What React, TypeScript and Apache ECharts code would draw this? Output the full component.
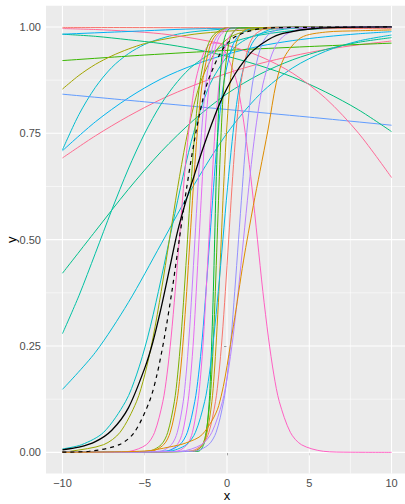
import { useEffect, useRef } from "react";
import * as echarts from "echarts";

// axis ticks and grid
const xTicks = [-10, -5, 0, 5, 10];
const xMinor = [-7.5, -2.5, 2.5, 7.5];
const yTicks = [0, 0.25, 0.5, 0.75, 1];
const yMinor = [0.125, 0.375, 0.625, 0.875];
const xRange = [-11, 11];
const yRange = [-0.05, 1.05];

// broad curves
const pinkRise = [[-10,0.692],[-8,0.744],[-6,0.79],[-4,0.83],[-2,0.863],[0,0.891],[2,0.914],[4,0.932],[6,0.947],[8,0.958],[10,0.967]];
const cyanA = [[-10,0.711],[-9,0.794],[-8,0.858],[-7,0.905],[-6,0.937],[-5,0.959],[-4,0.973],[-3,0.983],[-2,0.989],[0,0.9955],[3,0.999],[10,1]];
const cyanB = [[-10,0.709],[-8,0.777],[-6,0.833],[-4,0.878],[-2,0.911],[0,0.936],[2,0.955],[4,0.968],[6,0.977],[8,0.984],[10,0.989]];
const cyanC = [[-10,0.148],[-8,0.235],[-6,0.352],[-4,0.49],[-2,0.629],[0,0.75],[2,0.842],[4,0.904],[6,0.943],[8,0.967],[10,0.981]];
const blueFlat = [[-10,0.842],[-5,0.824],[0,0.806],[5,0.788],[10,0.769]];
const greenFlat = [[-10,0.921],[-5,0.934],[0,0.945],[5,0.954],[10,0.962]];
const oliveHigh = [[-10,0.854],[-9,0.886],[-8,0.912],[-7,0.932],[-6,0.948],[-5,0.961],[-4,0.97],[-2,0.983],[0,0.99],[2,0.9945],[5,0.9976],[10,0.9994]];
const tealFall = [[-10,0.983],[-8,0.978],[-6,0.97],[-4,0.961],[-2,0.948],[0,0.931],[2,0.909],[4,0.882],[6,0.847],[8,0.805],[10,0.754]];
const pinkFall = [[-10,0.9963],[-8,0.994],[-6,0.99],[-4,0.984],[-2,0.973],[0,0.957],[2,0.931],[4,0.891],[6,0.832],[8,0.75],[10,0.646]];
const greenWide = [[-10,0.421],[-8,0.52],[-6,0.618],[-4,0.707],[-2,0.782],[0,0.843],[2,0.889],[4,0.923],[6,0.947],[8,0.964],[10,0.975]];
const tealWide = [[-10,0.279],[-9,0.368],[-8,0.468],[-7,0.57],[-6,0.666],[-5,0.75],[-4,0.819],[-3,0.872],[-2,0.911],[0,0.959],[2,0.981],[5,0.9945],[10,0.9993]];
const cyanTop = [[-10,0.983],[-5,0.991],[-2.5,0.995],[0,0.997],[5,0.999],[10,0.9995]];
const redTop = [[-10,0.999],[0,0.998],[10,0.996]];

// steep curves
const tealSteep = [[-10,0.008],[-8.83,0.018],[-7.5,0.047],[-6.17,0.119],[-5.5,0.182],[-4.83,0.269],[-4.17,0.378],[-3.5,0.5],[-2.83,0.622],[-2.17,0.731],[-1.5,0.818],[-0.83,0.881],[0.5,0.953],[1.83,0.982],[4.5,0.998],[10,1]];
const oliveSteep = [[-10,0.0015],[-9.5,0.0025],[-7.5,0.018],[-6.5,0.047],[-5.5,0.119],[-5,0.182],[-4.5,0.269],[-4,0.378],[-3.5,0.5],[-3,0.622],[-2.5,0.731],[-2,0.818],[-1.5,0.881],[-0.5,0.953],[0.5,0.982],[2.5,0.998],[10,1]];
const hump = [[-10,0],[-7,0.0003],[-5.9,0.0025],[-4.9,0.018],[-4.4,0.047],[-3.9,0.119],[-3.65,0.182],[-3.4,0.269],[-3.15,0.378],[-2.9,0.5],[-2.65,0.62],[-2.4,0.728],[-2.15,0.812],[-1.9,0.875],[-1.4,0.94],[-0.9,0.962],[-0.5,0.962],[-0.15,0.945],[0.52,0.881],[0.85,0.818],[1.18,0.731],[1.52,0.622],[1.85,0.5],[2.18,0.378],[2.52,0.269],[2.85,0.182],[3.18,0.119],[3.85,0.047],[4.52,0.018],[5.85,0.0025],[7.5,0.0003],[10,0]];
const oliveGreen = [[-10,0],[-4.8,0.0025],[-4,0.018],[-3.6,0.047],[-3.2,0.119],[-3,0.182],[-2.8,0.269],[-2.6,0.378],[-2.4,0.5],[-2.2,0.622],[-2,0.731],[-1.8,0.818],[-1.6,0.881],[-1.2,0.953],[-0.8,0.982],[0,0.9975],[10,1]];
const orangeEarly = [[-10,0],[-4.65,0.0025],[-3.85,0.018],[-3.45,0.047],[-3.05,0.119],[-2.85,0.182],[-2.65,0.269],[-2.45,0.378],[-2.25,0.5],[-2.05,0.622],[-1.85,0.731],[-1.65,0.818],[-1.45,0.881],[-1.05,0.953],[-0.65,0.982],[0.15,0.9975],[10,1]];
const purpleEarly = [[-10,0],[-4.09,0.0025],[-3.38,0.018],[-3.02,0.047],[-2.66,0.119],[-2.49,0.182],[-2.31,0.269],[-2.13,0.378],[-1.95,0.5],[-1.77,0.622],[-1.59,0.731],[-1.41,0.818],[-1.24,0.881],[-0.88,0.953],[-0.52,0.982],[0.19,0.9975],[10,1]];
const violet = [[-10,0],[-3.7,0.0025],[-3.03,0.018],[-2.7,0.047],[-2.37,0.119],[-2.2,0.182],[-2.03,0.269],[-1.87,0.378],[-1.7,0.5],[-1.53,0.622],[-1.37,0.731],[-1.2,0.818],[-1.03,0.881],[-0.7,0.953],[-0.37,0.982],[0.3,0.9975],[10,1]];
const blueSteep = [[-10,0],[-3.78,0.0025],[-2.87,0.018],[-2.41,0.047],[-1.96,0.119],[-1.73,0.182],[-1.5,0.269],[-1.28,0.378],[-1.05,0.5],[-0.82,0.622],[-0.6,0.731],[-0.37,0.818],[-0.14,0.881],[0.31,0.953],[0.77,0.982],[1.68,0.9975],[10,1]];
const magenta = [[-10,0],[-3.1,0.0025],[-2.43,0.018],[-2.1,0.047],[-1.77,0.119],[-1.6,0.182],[-1.43,0.269],[-1.27,0.378],[-1.1,0.5],[-0.93,0.622],[-0.77,0.731],[-0.6,0.818],[-0.43,0.881],[-0.1,0.953],[0.23,0.982],[0.9,0.9975],[10,1]];
const greenSharp = [[-10,0],[-1.75,0.0025],[-1.42,0.018],[-1.25,0.047],[-1.08,0.119],[-1,0.182],[-0.92,0.269],[-0.83,0.378],[-0.75,0.5],[-0.67,0.622],[-0.58,0.731],[-0.5,0.818],[-0.42,0.881],[-0.25,0.953],[-0.08,0.982],[0.25,0.9975],[10,1]];
const greenSteep = [[-10,0],[-1.93,0.0025],[-1.49,0.018],[-1.27,0.047],[-1.04,0.119],[-0.93,0.182],[-0.82,0.269],[-0.71,0.378],[-0.6,0.5],[-0.49,0.622],[-0.38,0.731],[-0.27,0.818],[-0.16,0.881],[0.07,0.953],[0.29,0.982],[0.73,0.9975],[10,1]];
const gold = [[-10,0],[-2.06,0.0025],[-1.49,0.018],[-1.21,0.047],[-0.92,0.119],[-0.78,0.182],[-0.64,0.269],[-0.49,0.378],[-0.35,0.5],[-0.21,0.622],[-0.06,0.731],[0.08,0.818],[0.22,0.881],[0.51,0.953],[0.79,0.982],[1.36,0.9975],[10,1]];
const cyanSteep = [[-10,0],[-3.58,0.0025],[-2.47,0.018],[-1.92,0.047],[-1.36,0.119],[-1.08,0.182],[-0.81,0.269],[-0.53,0.378],[-0.25,0.5],[0.03,0.622],[0.31,0.731],[0.58,0.818],[0.86,0.881],[1.42,0.953],[1.97,0.982],[3.08,0.9975],[10,1]];
const salmon = [[-10,0],[-2.3,0.0025],[-1.5,0.018],[-1.1,0.047],[-0.7,0.119],[-0.5,0.182],[-0.3,0.269],[-0.1,0.378],[0.1,0.5],[0.3,0.622],[0.5,0.731],[0.7,0.818],[0.9,0.881],[1.3,0.953],[1.7,0.982],[2.5,0.9975],[10,1]];
const purpleBlue = [[-10,0],[-2.03,0.0025],[-1.12,0.018],[-0.66,0.047],[-0.21,0.119],[0.02,0.182],[0.25,0.269],[0.47,0.378],[0.7,0.5],[0.93,0.622],[1.15,0.731],[1.38,0.818],[1.61,0.881],[2.06,0.953],[2.52,0.982],[3.43,0.9975],[10,1]];
const purpleLate = [[-10,0],[-2.85,0.0025],[-1.56,0.018],[-0.92,0.047],[-0.28,0.119],[0.04,0.182],[0.36,0.269],[0.68,0.378],[1,0.5],[1.32,0.622],[1.64,0.731],[1.96,0.818],[2.28,0.881],[2.92,0.953],[3.56,0.982],[4.85,0.9975],[10,1]];
const orangeLate = [[-10,0],[-5,0.003],[-3.5,0.0125],[-2.5,0.022],[-1.5,0.042],[-0.5,0.11],[0.4,0.3],[1,0.45],[1.6,0.58],[2,0.66],[2.5,0.76],[3,0.87],[3.5,0.93],[4.5,0.975],[6,0.988],[8,0.991],[10,0.993]];

// summary curves
const meanCurve = [[-10,0.006],[-9,0.012],[-8,0.025],[-7,0.052],[-6,0.104],[-5,0.198],[-4.5,0.26],[-4,0.34],[-3.5,0.43],[-3,0.52],[-2.5,0.59],[-2,0.65],[-1.5,0.71],[-1,0.765],[-0.5,0.815],[0,0.856],[0.5,0.89],[1,0.918],[1.6,0.945],[2.5,0.97],[3.4,0.985],[5.5,0.997],[10,1]];
const refCurve = [[-10,0.0005],[-8.35,0.0025],[-6.54,0.018],[-5.63,0.047],[-4.72,0.119],[-4.26,0.182],[-3.81,0.269],[-3.35,0.378],[-2.9,0.5],[-2.45,0.622],[-1.99,0.731],[-1.54,0.818],[-1.08,0.881],[-0.17,0.953],[0.74,0.982],[2.55,0.998],[10,1]];

const coloured: [number[][], string][] = [
  [pinkRise, "#FF6C91"],
  [cyanA, "#00BDD0"],
  [cyanB, "#00B4EF"],
  [cyanC, "#00BCD6"],
  [blueFlat, "#619CFF"],
  [greenFlat, "#39B600"],
  [oliveHigh, "#A3A500"],
  [tealFall, "#00BF7D"],
  [pinkFall, "#FF6A98"],
  [greenWide, "#00C08B"],
  [tealWide, "#00C1A3"],
  [cyanTop, "#00B0F6"],
  [redTop, "#F8766D"],
  [tealSteep, "#00BFC4"],
  [oliveSteep, "#9AA800"],
  [hump, "#FF61C3"],
  [oliveGreen, "#7CAE00"],
  [orangeEarly, "#E58700"],
  [purpleEarly, "#C77CFF"],
  [violet, "#E76BF3"],
  [blueSteep, "#00A9FF"],
  [magenta, "#F564E3"],
  [greenSharp, "#00BA38"],
  [greenSteep, "#53B400"],
  [gold, "#C49A00"],
  [cyanSteep, "#00B8E7"],
  [salmon, "#F8766D"],
  [purpleBlue, "#9590FF"],
  [purpleLate, "#B983FF"],
  [orangeLate, "#DE8C00"],
];

const FONT = '"Liberation Sans", Arial, Helvetica, sans-serif';
const fmtX = (v: number) => String(v).replace("-", "\u2212");
const fmtY = (v: number) => v.toFixed(2);

export default function App() {
  const ref = useRef<HTMLDivElement>(null);

  useEffect(() => {
    if (!ref.current) return;
    const chart = echarts.init(ref.current, undefined, { renderer: "svg" });

    const gridSeries: any[] = [];
    const vline = (v: number, w: number) => ({
      type: "line",
      data: [[v, yRange[0]], [v, yRange[1]]],
      symbol: "none",
      silent: true,
      z: 1,
      lineStyle: { color: "#FFFFFF", width: w },
    });
    const hline = (v: number, w: number) => ({
      type: "line",
      data: [[xRange[0], v], [xRange[1], v]],
      symbol: "none",
      silent: true,
      z: 1,
      lineStyle: { color: "#FFFFFF", width: w },
    });
    xMinor.forEach((v) => gridSeries.push(vline(v, 0.55)));
    yMinor.forEach((v) => gridSeries.push(hline(v, 0.55)));
    xTicks.forEach((v) => gridSeries.push(vline(v, 1.1)));
    yTicks.forEach((v) => gridSeries.push(hline(v, 1.1)));

    const curveSeries = coloured.map(([pts, color]) => ({
      type: "line",
      data: pts,
      symbol: "none",
      smooth: 0.3,
      silent: true,
      z: 2,
      lineStyle: { color, width: 1 },
    }));

    const blackSeries = [
      {
        type: "line",
        data: refCurve,
        symbol: "none",
        smooth: 0.3,
        silent: true,
        z: 3,
        lineStyle: { color: "#000000", width: 1.2, type: [4, 4] },
      },
      {
        type: "line",
        data: meanCurve,
        symbol: "none",
        smooth: 0.3,
        silent: true,
        z: 3,
        lineStyle: { color: "#000000", width: 1.3 },
      },
    ];

    chart.setOption({
      animation: false,
      grid: {
        left: 46,
        right: 0,
        top: 5.7,
        bottom: 30.4,
        outerBoundsMode: "none",
        containLabel: false,
        show: true,
        backgroundColor: "#EBEBEB",
        borderWidth: 0,
      },
      xAxis: {
        type: "value",
        min: xRange[0],
        max: xRange[1],
        splitLine: { show: false },
        axisLine: { show: false },
        axisTick: { show: true, customValues: xTicks, length: 3, lineStyle: { color: "#333333", width: 1 } },
        axisLabel: { customValues: xTicks, formatter: fmtX, color: "#4D4D4D", fontSize: 11, margin: 4, fontFamily: FONT },
        name: "x",
        nameLocation: "middle",
        nameGap: 15.5,
        nameMoveOverlap: false,
        nameTextStyle: { color: "#000000", fontSize: 13, fontFamily: FONT },
      },
      yAxis: {
        type: "value",
        min: yRange[0],
        max: yRange[1],
        splitLine: { show: false },
        axisLine: { show: false },
        axisTick: { show: true, customValues: yTicks, length: 3, lineStyle: { color: "#333333", width: 1 } },
        axisLabel: { customValues: yTicks, formatter: fmtY, color: "#4D4D4D", fontSize: 11, margin: 5, fontFamily: FONT },
        name: "y",
        nameLocation: "middle",
        nameGap: 28.5,
        nameMoveOverlap: false,
        nameTextStyle: { color: "#000000", fontSize: 13, fontFamily: FONT },
      },
      series: [...gridSeries, ...curveSeries, ...blackSeries],
    });

    return () => chart.dispose();
  }, []);

  return (
    <div style={{ position: "fixed", left: 0, top: 0, width: 405, height: 504, overflow: "hidden", background: "#FFFFFF" }}>
      <div ref={ref} style={{ width: 408, height: 504 }} />
    </div>
  );
}
